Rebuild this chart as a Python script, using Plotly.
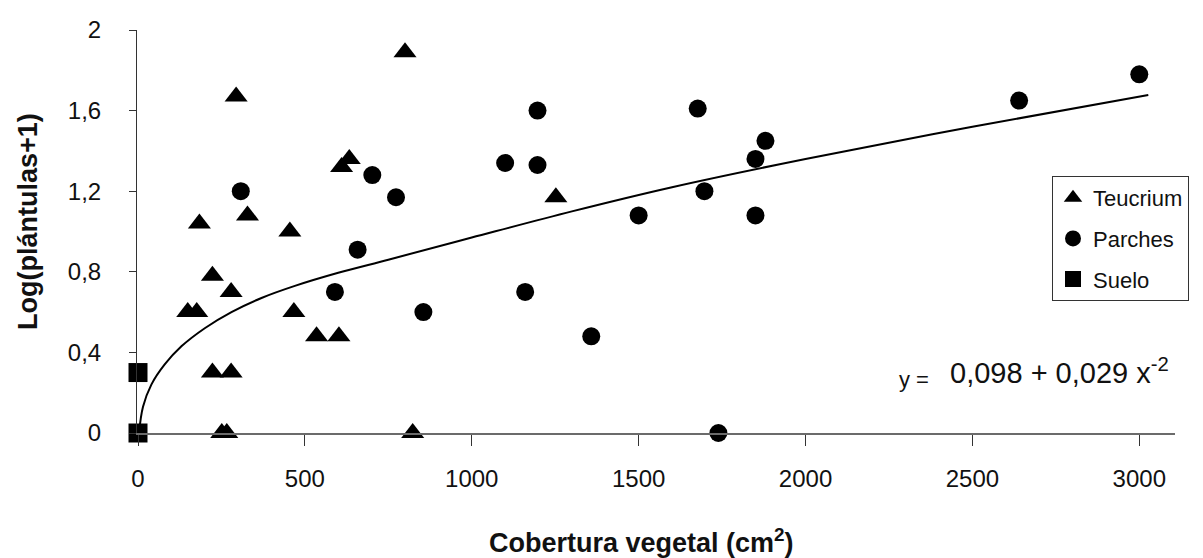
import plotly.graph_objects as go

# ---- data ----
teucrium_x = [800, 294, 610, 633, 184, 328, 455, 223, 279, 149, 176, 467, 535, 602, 223, 279, 251, 266, 823, 1252]
teucrium_y = [1.89, 1.67, 1.32, 1.36, 1.04, 1.08, 1.00, 0.78, 0.70, 0.60, 0.60, 0.60, 0.48, 0.48, 0.30, 0.30, 0.0, 0.0, 0.0, 1.17]

parches_x = [308, 702, 773, 658, 590, 855, 1197, 1100, 1197, 1160, 1358, 1677, 1880, 1850, 1697, 1500, 1850, 1739, 2640, 3000]
parches_y = [1.20, 1.28, 1.17, 0.91, 0.70, 0.60, 1.60, 1.34, 1.33, 0.70, 0.48, 1.61, 1.45, 1.36, 1.20, 1.08, 1.08, 0.0, 1.65, 1.78]

suelo_x = [0, 0]
suelo_y = [0.0, 0.30]

# fitted curve, points
curve_x = [3, 15, 40, 80, 130, 200, 280, 370, 470, 600, 750, 1000, 1300, 1600, 2000, 2500, 3027]
curve_y = [0.0, 0.13, 0.24, 0.34, 0.43, 0.52, 0.60, 0.67, 0.73, 0.795, 0.86, 0.97, 1.10, 1.22, 1.36, 1.52, 1.677]

x_ticks = [0, 500, 1000, 1500, 2000, 2500, 3000]
y_ticks = [0, 0.4, 0.8, 1.2, 1.6, 2]
y_ticktext = ["0", "0,4", "0,8", "1,2", "1,6", "2"]

FONT = "Liberation Sans, Arial, sans-serif"
INK = "#111111"

fig = go.Figure()

fig.add_trace(go.Scatter(
    x=curve_x, y=curve_y, mode="lines", line=dict(color="black", width=2, shape="spline", smoothing=1.0),
    showlegend=False, hoverinfo="skip", cliponaxis=False))

fig.add_trace(go.Scatter(
    x=teucrium_x, y=teucrium_y, mode="markers", name="Teucrium", legendgroup="t",
    marker=dict(symbol="triangle-up", size=20, color="black"), cliponaxis=False))
fig.add_trace(go.Scatter(
    x=parches_x, y=parches_y, mode="markers", name="Parches", legendgroup="p",
    marker=dict(symbol="circle", size=18, color="black"), cliponaxis=False))
fig.add_trace(go.Scatter(
    x=suelo_x, y=suelo_y, mode="markers", name="Suelo", legendgroup="s",
    marker=dict(symbol="square", size=19, color="black"), cliponaxis=False))

L, R, T, B = 137, 28, 30, 125
W, H = 1203, 558
pw, ph = W - L - R, H - T - B

def px(xp):
    return (xp - L) / pw

def py(yp):
    return 1 - (yp - T) / ph

fig.update_layout(
    width=W, height=H,
    margin=dict(l=L, r=R, t=T, b=B, autoexpand=False),
    paper_bgcolor="white", plot_bgcolor="white",
    font=dict(family=FONT, color=INK, size=24),
    legend=dict(
        x=px(1052), y=py(176), xanchor="left", yanchor="top",
        bordercolor="#333333", borderwidth=1, bgcolor="white",
        font=dict(family=FONT, size=22, color=INK),
        tracegroupgap=9, itemsizing="trace",
        entrywidth=116, entrywidthmode="pixels",
    ),
    xaxis=dict(
        range=[-3, 3107], showgrid=False, zeroline=False, automargin=False,
        showline=True, linecolor="#6b6b6b", linewidth=2,
        ticks="outside", ticklen=11, tickcolor="#333333", tickwidth=1,
        tickvals=x_ticks, ticktext=[str(v) for v in x_ticks],
        tickfont=dict(family=FONT, size=24, color=INK), ticklabelstandoff=12,
    ),
    yaxis=dict(
        range=[0, 2], showgrid=False, zeroline=False, automargin=False,
        showline=True, linecolor="#333333", linewidth=1,
        ticks="outside", ticklen=7, tickcolor="#333333", tickwidth=1,
        tickvals=y_ticks, ticktext=y_ticktext,
        tickfont=dict(family=FONT, size=24, color=INK), ticklabelstandoff=23,
    ),
    annotations=[
        dict(text="<b>Log(plántulas+1)</b>", textangle=-90, xref="paper", yref="paper",
             x=px(28), y=py(222), xanchor="center", yanchor="middle", showarrow=False,
             font=dict(family=FONT, size=27, color=INK)),
        dict(text="<b>Cobertura vegetal (cm<sup>2</sup>)</b>", xref="paper", yref="paper",
             x=px(641), y=py(541), xanchor="center", yanchor="middle", showarrow=False,
             font=dict(family=FONT, size=27, color=INK)),
        dict(text="y = ", xref="paper", yref="paper",
             x=px(937), y=py(379), xanchor="right", yanchor="middle", showarrow=False,
             font=dict(family=FONT, size=22, color=INK)),
        dict(text="0,098 + 0,029 x<sup>-2</sup>", xref="paper", yref="paper",
             x=px(948), y=py(371), xanchor="left", yanchor="middle", showarrow=False,
             font=dict(family=FONT, size=29, color=INK)),
    ],
)

fig.write_html("out.html", config={"displayModeBar": False},
               post_script="document.body.style.margin='0px';")
